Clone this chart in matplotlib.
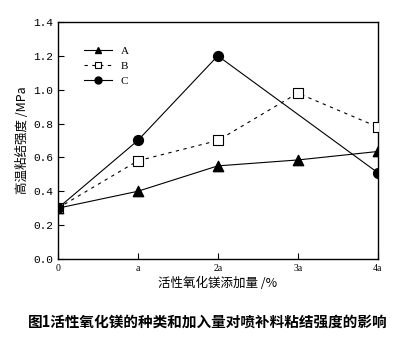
import numpy as np
import matplotlib.pyplot as plt
from matplotlib.lines import Line2D

plt.rcParams['font.family'] = ['Noto Sans CJK SC', 'DejaVu Sans']

x_labels = ['0', 'a', '2a', '3a', '4a']
x_a = [0, 1, 2, 3, 4]
y_a = [0.30, 0.40, 0.55, 0.585, 0.635]
x_b = [0, 1, 2, 3, 4]
y_b = [0.30, 0.58, 0.70, 0.98, 0.78]
x_c = [0, 1, 2, 4]
y_c = [0.30, 0.70, 1.20, 0.51]
y_ticks = [0.0, 0.2, 0.4, 0.6, 0.8, 1.0, 1.2, 1.4]

fig = plt.figure(figsize=(4.16, 3.42), dpi=100)
ax = fig.add_axes([0.139, 0.2427, 0.769, 0.693])

# lines
ax.plot(x_a, y_a, '-', color='black', lw=0.8)
ax.plot(x_b, y_b, '--', color='black', lw=0.8, dashes=(3, 4))
ax.plot(x_c, y_c, '-', color='black', lw=0.8)
# markers as scatter so they get cut at the axes edge
ax.scatter(x_a, y_a, marker='^', s=55, c='black', zorder=3)
ax.scatter(x_b, y_b, marker='s', s=50, facecolors='white', edgecolors='black',
           linewidths=0.8, zorder=3)
ax.scatter(x_c, y_c, marker='o', s=50, c='black', zorder=3)

ax.set_xlim(0, 4)
ax.set_ylim(0, 1.4)
ax.set_xticks(range(len(x_labels)))
ax.set_xticklabels(x_labels, family='Liberation Serif', fontsize=7)
ax.set_yticks(y_ticks)
ax.set_yticklabels(['%.1f' % v for v in y_ticks], family='Liberation Mono', fontsize=8)
ax.tick_params(direction='in', length=4, width=0.8)
for s in ax.spines.values():
    s.set_linewidth(1.0)

ax.set_xlabel('活性氧化镁添加量 /%', fontsize=9, labelpad=3)
ax.set_ylabel('高温粘结强度 /MPa', fontsize=9, labelpad=3)

handles = [
    Line2D([], [], color='black', lw=0.8, marker='^', ms=5, mfc='black'),
    Line2D([], [], color='black', lw=0.8, ls='--', dashes=(3, 4), marker='s', ms=5,
           mfc='white', mew=0.8),
    Line2D([], [], color='black', lw=0.8, marker='o', ms=5, mfc='black'),
]
ax.legend(handles, ['A', 'B', 'C'], loc='upper left', bbox_to_anchor=(0.05, 0.94),
          frameon=False, handlelength=2.5, labelspacing=0.45,
          prop={'family': 'Liberation Serif', 'size': 8})

fig.text(0.5, 0.045, '图1活性氧化镁的种类和加入量对喷补料粘结强度的影响',
         ha='center', fontsize=10.5, fontweight='bold')

fig.savefig('out.png', dpi=100)
